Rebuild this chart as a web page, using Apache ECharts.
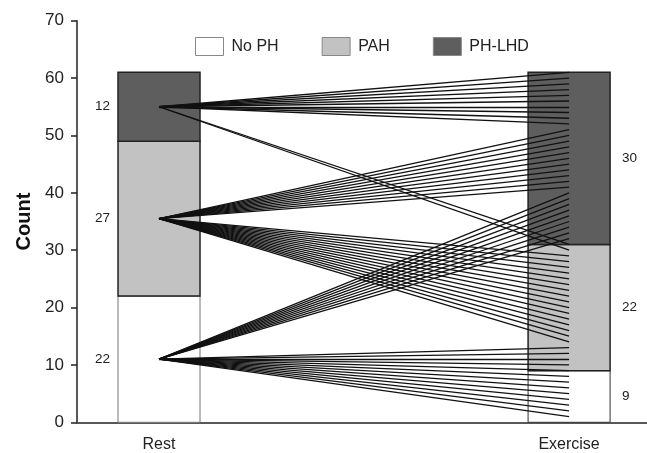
<!DOCTYPE html>
<html>
<head>
<meta charset="utf-8">
<script src="https://cdn.jsdelivr.net/npm/echarts@6/dist/echarts.min.js"></script>
<style>
html,body{margin:0;padding:0;background:#fff;}
#chart{width:647px;height:453px;}
</style>
</head>
<body>
<div id="chart"></div>
<script>
// ---- data ----
const categories = ['Rest', 'Exercise'];
const categoryPos = [1, 2];
const seriesNames = ['No PH', 'PAH', 'PH-LHD'];
const noPH = [22, 9];
const pah = [27, 22];
const phlhd = [12, 30];
const yMin = 0, yMax = 70, yInterval = 10;
// Rest-side origin of each group's lines (middle of its segment)
const restOrigins = [11, 35.5, 55];
// Exercise-side end point of each individual line, grouped by rest class
const targetsNoPH = [1, 2, 3, 4, 5, 6, 7, 8, 9, 10, 11, 12, 13, 32, 33, 34, 35, 36, 37, 38, 39, 40];
const targetsPAH = [14, 15, 16, 17, 18, 19, 20, 21, 22, 23, 24, 25, 26, 27, 28, 29, 41, 42, 43, 44, 45, 46, 47, 48, 49, 50, 51];
const targetsPHLHD = [30, 31, 52, 53, 54, 55, 56, 57, 58, 59, 60, 61];

// ---- build ----
const FONT = "'Liberation Sans', Arial, sans-serif";
const BAR_W = 82;
const groupTargets = [targetsNoPH, targetsPAH, targetsPHLHD];
const lineData = [];
groupTargets.forEach((arr, g) => {
  arr.forEach(t => lineData.push({ coords: [[categoryPos[0], restOrigins[g]], [categoryPos[1], t]] }));
});

// stacked segments [x, start, end, count]
const classValues = [noPH, pah, phlhd];
const segData = classValues.map(() => []);
categoryPos.forEach((x, i) => {
  let base = 0;
  classValues.forEach((vals, c) => {
    segData[c].push([x, base, base + vals[i], vals[i]]);
    base += vals[i];
  });
});

const styles = [
  { fill: '#ffffff', stroke: ['#777', '#333'], lineWidth: 1 },
  { fill: '#c2c2c2', stroke: ['#222', '#222'], lineWidth: 1.5 },
  { fill: '#5e5e5e', stroke: ['#222', '#222'], lineWidth: 1.5 }
];

function makeRender(c) {
  return function (params, api) {
    const x = api.value(0), y0 = api.value(1), y1 = api.value(2), n = api.value(3);
    const pb = api.coord([x, y0]);
    const pt = api.coord([x, y1]);
    const left = pb[0] - BAR_W / 2;
    const isRest = params.dataIndex === 0;
    const midY = (pb[1] + pt[1]) / 2;
    return {
      type: 'group',
      children: [
        { type: 'rect', shape: { x: left, y: pt[1], width: BAR_W, height: pb[1] - pt[1] },
          style: { fill: styles[c].fill, stroke: styles[c].stroke[params.dataIndex], lineWidth: styles[c].lineWidth } },
        { type: 'text', x: isRest ? left - 8 : left + BAR_W + 12, y: midY,
          style: { text: String(n), fill: '#222', fontSize: 13.5, fontFamily: FONT,
            align: isRest ? 'right' : 'left', verticalAlign: 'middle' } }
      ]
    };
  };
}

const chart = echarts.init(document.getElementById('chart'), null, { renderer: 'canvas' });
chart.setOption({
  animation: false,
  backgroundColor: '#fff',
  textStyle: { fontFamily: FONT },
  legend: {
    data: seriesNames,
    left: 190, top: 32,
    itemWidth: 28, itemHeight: 18, itemGap: 43,
    icon: 'rect',
    itemStyle: { borderColor: '#888', borderWidth: 1 },
    textStyle: { fontSize: 16, color: '#222', fontFamily: FONT, padding: [0, 0, 0, 3] }
  },
  grid: { left: 77, right: 0, top: 20.7, bottom: 30.7 },
  xAxis: {
    type: 'value', min: 0.8, max: 2.19,
    axisLine: { show: true, lineStyle: { color: '#222', width: 1.5 } },
    axisTick: { show: false }, splitLine: { show: false },
    axisLabel: { show: true, customValues: categoryPos, fontSize: 16, color: '#222', margin: 14,
      fontFamily: FONT, formatter: v => categories[categoryPos.indexOf(v)] || '' }
  },
  yAxis: {
    type: 'value', min: yMin, max: yMax, interval: yInterval,
    name: 'Count', nameLocation: 'middle', nameGap: 42,
    nameTextStyle: { fontSize: 20, fontWeight: 'bold', color: '#111', fontFamily: FONT },
    axisLine: { show: true, lineStyle: { color: '#222', width: 1.5 } },
    axisTick: { show: true, length: 6, lineStyle: { color: '#222', width: 1.5 } },
    axisLabel: { fontSize: 17, color: '#222', margin: 13, fontFamily: FONT },
    splitLine: { show: false }
  },
  series: seriesNames.map((name, c) => ({
    name: name, type: 'custom', renderItem: makeRender(c),
    encode: { x: 0, y: [1, 2] },
    itemStyle: { color: styles[c].fill, borderColor: '#888', borderWidth: 1 },
    data: segData[c], z: 2, clip: false
  })).concat([
    { type: 'lines', coordinateSystem: 'cartesian2d',
      lineStyle: { color: '#111', width: 1.3, opacity: 1, curveness: 0 },
      silent: true, z: 5, data: lineData }
  ])
});
</script>
</body>
</html>
